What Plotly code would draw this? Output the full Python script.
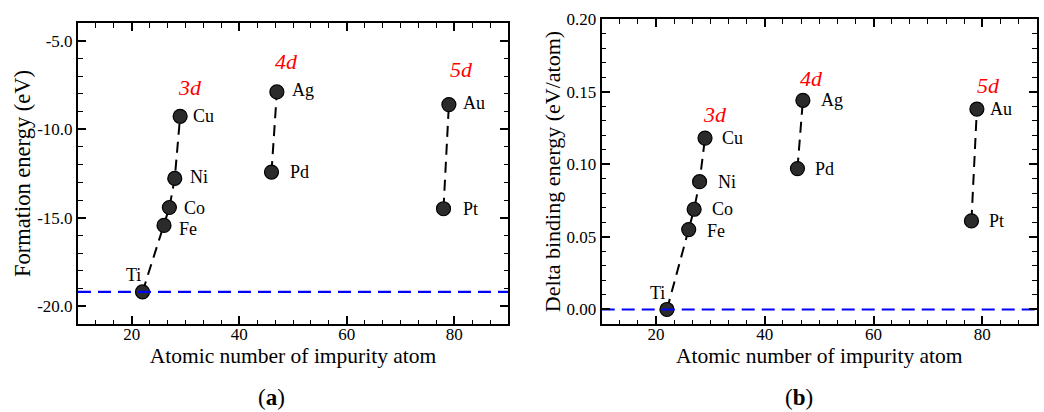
import plotly.graph_objects as go

# ---------------- data ----------------
elements_3d = ["Ti", "Fe", "Co", "Ni", "Cu"]
z_3d = [22, 26, 27, 28, 29]
elements_4d = ["Pd", "Ag"]
z_4d = [46, 47]
elements_5d = ["Pt", "Au"]
z_5d = [78, 79]

formation_3d = [-19.19, -15.43, -14.42, -12.78, -9.27]
formation_4d = [-12.42, -7.89]
formation_5d = [-14.49, -8.61]
formation_ref = -19.19

delta_3d = [0.000, 0.055, 0.069, 0.088, 0.118]
delta_4d = [0.097, 0.144]
delta_5d = [0.061, 0.138]
delta_ref = 0.0

group_labels = ["3d", "4d", "5d"]

x_tickvals = [20, 40, 60, 80]
x_ticktext = ["20", "40", "60", "80"]
ya_tickvals = [-5, -10, -15, -20]
ya_ticktext = ["-5.0", "-10.0", "-15.0", "-20.0"]
yb_tickvals = [0.0, 0.05, 0.10, 0.15, 0.20]
yb_ticktext = ["0.00", "0.05", "0.10", "0.15", "0.20"]

# ---------------- styles / layout ----------------
SERIF = "Liberation Serif, Times New Roman, serif"
MARKER = dict(size=14, color="#2b2b2b", line=dict(color="black", width=1.2))
LINE = dict(color="black", width=2, dash="11px,7px")

fig = go.Figure()

panels = [
    dict(xa="x", ya="y", series=[(z_3d, formation_3d, elements_3d),
                                 (z_4d, formation_4d, elements_4d),
                                 (z_5d, formation_5d, elements_5d)],
         ref=formation_ref,
         group_pos=[(30.8, -7.65), (48.7, -6.17), (81.4, -6.64)],
         shifts={"Ti": (0, 17, "right"), "Fe": (13, -4, "left"), "Co": (13, 0, "left"),
                 "Ni": (13, 1, "left"), "Cu": (11, 0, "left"), "Pd": (16, 0, "left"),
                 "Ag": (13, 2, "left"), "Pt": (17, 0, "left"), "Au": (12, 2, "left")}),
    dict(xa="x2", ya="y2", series=[(z_3d, delta_3d, elements_3d),
                                   (z_4d, delta_4d, elements_4d),
                                   (z_5d, delta_5d, elements_5d)],
         ref=delta_ref,
         group_pos=[(30.85, 0.1345), (48.6, 0.159), (81.1, 0.154)],
         shifts={"Ti": (0, 16, "right"), "Fe": (16, -1, "left"), "Co": (16, 0, "left"),
                 "Ni": (16, 0, "left"), "Cu": (15, 0, "left"), "Pd": (16, 0, "left"),
                 "Ag": (16, 0, "left"), "Pt": (16, 0, "left"), "Au": (11, 0, "left")}),
]

annotations = []
for p in panels:
    for xs, ys, names in p["series"]:
        fig.add_trace(go.Scatter(x=xs, y=ys, mode="lines+markers", line=LINE,
                                 marker=MARKER, xaxis=p["xa"], yaxis=p["ya"],
                                 showlegend=False, cliponaxis=False))
        for xv, yv, nm in zip(xs, ys, names):
            dx, dy, anc = p["shifts"][nm]
            annotations.append(dict(x=xv, y=yv, xref=p["xa"], yref=p["ya"], text=nm,
                                    showarrow=False, xanchor=anc, yanchor="middle",
                                    xshift=dx, yshift=dy,
                                    font=dict(family=SERIF, size=18, color="black")))
    # reference line across the full width
    fig.add_trace(go.Scatter(x=[10, 90], y=[p["ref"], p["ref"]], mode="lines",
                             line=dict(color="#0000ff", width=2.2, dash="13px,7px"),
                             xaxis=p["xa"], yaxis=p["ya"], showlegend=False))
    for lab, (gx, gy) in zip(group_labels, p["group_pos"]):
        annotations.append(dict(x=gx, y=gy, xref=p["xa"], yref=p["ya"],
                                text="<i>" + lab + "</i>", showarrow=False,
                                font=dict(family=SERIF, size=22, color="#ff0000")))

for cap, cx in [("(<b>a</b>)", 271.7), ("(<b>b</b>)", 799.3)]:
    annotations.append(dict(x=cx / 1044, y=1 - 397 / 412, xref="paper", yref="paper",
                            text=cap, showarrow=False, xanchor="center", yanchor="middle",
                            font=dict(family=SERIF, size=23, color="black")))

axis_common = dict(showline=True, linecolor="black", linewidth=2, mirror="ticks",
                   ticks="inside", ticklen=8, tickwidth=1.5, tickcolor="black",
                   showgrid=False, zeroline=False, automargin=False,
                   tickfont=dict(family=SERIF, size=17, color="black"))

xaxis_common = dict(axis_common, range=[10, 90], tickmode="array",
                    tickvals=x_tickvals, ticktext=x_ticktext, ticklabelstandoff=-6,
                    minor=dict(ticks="inside", ticklen=4.5, tickwidth=1.2,
                               tickcolor="black", dtick=20 / 6, tick0=0, showgrid=False),
                    title=dict(text="Atomic number of impurity atom",
                               font=dict(family=SERIF, size=21.5, color="black"), standoff=0))

fig.update_layout(
    width=1044, height=412,
    margin=dict(l=0, r=0, t=0, b=0),
    paper_bgcolor="white", plot_bgcolor="white",
    xaxis=dict(xaxis_common, domain=[78 / 1044, 508 / 1044], anchor="y"),
    yaxis=dict(axis_common, domain=[1 - 324 / 412, 1 - 23 / 412], anchor="x",
               range=[-21, -4], tickmode="array", tickvals=ya_tickvals, ticktext=ya_ticktext,
               minor=dict(ticks="inside", ticklen=4.5, tickwidth=1.2, tickcolor="black",
                          dtick=1, tick0=0, showgrid=False),
               title=dict(text="Formation energy (eV)",
                          font=dict(family=SERIF, size=22.5, color="black"), standoff=0)),
    xaxis2=dict(xaxis_common, domain=[601.7 / 1044, 1036.7 / 1044], anchor="y2"),
    yaxis2=dict(axis_common, domain=[1 - 324 / 412, 1 - 19 / 412], anchor="x2",
                range=[-0.01, 0.2], tickmode="array", tickvals=yb_tickvals, ticktext=yb_ticktext,
                minor=dict(ticks="inside", ticklen=4.5, tickwidth=1.2, tickcolor="black",
                           dtick=0.01, tick0=0, showgrid=False),
                title=dict(text="Delta binding energy (eV/atom)",
                           font=dict(family=SERIF, size=22, color="black"), standoff=0)),
    annotations=annotations,
)

fig.write_html("out.html", config={"displayModeBar": False},
               post_script="document.body.style.margin='0';document.body.style.overflow='hidden';")
